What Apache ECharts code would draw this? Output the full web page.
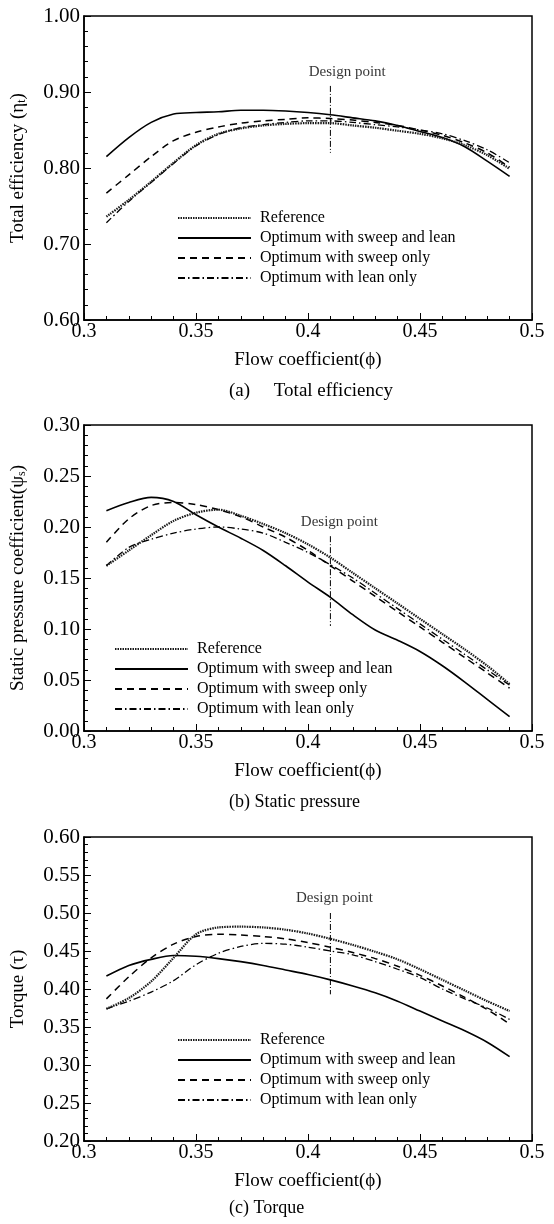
<!DOCTYPE html>
<html>
<head>
<meta charset="utf-8">
<script src="https://cdn.jsdelivr.net/npm/echarts@6/dist/echarts.min.js"></script>
<style>
  html, body { margin: 0; padding: 0; background: #fff; }
  #main { width: 554px; height: 1224px; }
</style>
</head>
<body>
<div id="main"></div>
<script>
// flow coefficient samples
const phi = [0.31, 0.32, 0.33, 0.34, 0.35, 0.36, 0.37, 0.38, 0.39, 0.40,
             0.41, 0.42, 0.43, 0.44, 0.45, 0.46, 0.47, 0.48, 0.49];

// (a) total efficiency
const effReference = [0.736, 0.758, 0.782, 0.807, 0.830, 0.845, 0.852, 0.856, 0.858, 0.859, 0.859, 0.856, 0.853, 0.849, 0.845, 0.839, 0.830, 0.817, 0.799];
const effSweepLean = [0.815, 0.840, 0.860, 0.871, 0.873, 0.874, 0.876, 0.876, 0.875, 0.873, 0.870, 0.866, 0.862, 0.856, 0.848, 0.840, 0.828, 0.809, 0.789];
const effSweep     = [0.767, 0.791, 0.815, 0.836, 0.847, 0.854, 0.859, 0.862, 0.864, 0.866, 0.865, 0.863, 0.860, 0.856, 0.850, 0.843, 0.833, 0.820, 0.801];
const effLean      = [0.728, 0.756, 0.781, 0.806, 0.829, 0.844, 0.853, 0.857, 0.860, 0.862, 0.862, 0.860, 0.857, 0.854, 0.850, 0.845, 0.836, 0.824, 0.807];

// (b) static pressure coefficient
const spReference = [0.162, 0.177, 0.192, 0.206, 0.214, 0.217, 0.211, 0.203, 0.194, 0.183, 0.170, 0.155, 0.140, 0.125, 0.110, 0.095, 0.080, 0.064, 0.046];
const spSweepLean = [0.216, 0.224, 0.229, 0.225, 0.212, 0.200, 0.189, 0.177, 0.162, 0.146, 0.131, 0.114, 0.099, 0.089, 0.078, 0.064, 0.048, 0.031, 0.014];
const spSweep     = [0.185, 0.208, 0.221, 0.224, 0.222, 0.217, 0.210, 0.200, 0.190, 0.177, 0.162, 0.147, 0.132, 0.117, 0.102, 0.087, 0.072, 0.057, 0.042];
const spLean      = [0.162, 0.180, 0.188, 0.194, 0.198, 0.200, 0.198, 0.194, 0.185, 0.175, 0.163, 0.150, 0.135, 0.120, 0.105, 0.090, 0.075, 0.060, 0.045];

// (c) torque
const tqReference = [0.374, 0.388, 0.410, 0.441, 0.472, 0.481, 0.482, 0.481, 0.478, 0.473, 0.466, 0.458, 0.449, 0.439, 0.426, 0.412, 0.398, 0.384, 0.371];
const tqSweepLean = [0.417, 0.431, 0.439, 0.444, 0.443, 0.440, 0.436, 0.431, 0.425, 0.419, 0.412, 0.404, 0.395, 0.384, 0.371, 0.358, 0.345, 0.330, 0.311];
const tqSweep     = [0.387, 0.416, 0.441, 0.459, 0.469, 0.472, 0.471, 0.469, 0.466, 0.461, 0.455, 0.448, 0.440, 0.430, 0.418, 0.404, 0.389, 0.373, 0.354];
const tqLean      = [0.374, 0.384, 0.396, 0.411, 0.432, 0.447, 0.456, 0.460, 0.459, 0.455, 0.450, 0.445, 0.436, 0.426, 0.415, 0.400, 0.387, 0.375, 0.360];

// design point marker (x, top and bottom of the line) and label anchor
const designX = 0.41;
const designEff = [0.908, 0.820];
const designSp  = [0.191, 0.103];
const designTq  = [0.500, 0.393];
const designLabelAt = [[0.4175, 0.926], [0.414, 0.205], [0.4118, 0.519]];

const names = ['Reference', 'Optimum with sweep and lean', 'Optimum with sweep only', 'Optimum with lean only'];
const serif = 'Liberation Serif, Times New Roman, serif';

const styles = [
  { color: '#1a1a1a', width: 2.2, type: [1.5, 1] },
  { color: '#000', width: 1.6, type: 'solid' },
  { color: '#000', width: 1.5, type: [7, 5] },
  { color: '#000', width: 1.3, type: [7, 3, 1.5, 3] }
];

function pairs(ys) {
  return phi.map((x, i) => [x, ys[i]]);
}

function xAxisFor(i) {
  return {
    type: 'value', gridIndex: i, min: 0.3, max: 0.5, interval: 0.05,
    name: 'Flow coefficient(ϕ)', nameLocation: 'middle', nameGap: 31,
    nameTextStyle: { fontFamily: serif, fontSize: 19, color: '#000' },
    axisLine: { lineStyle: { color: '#000', width: 1.5 } },
    axisTick: { inside: true, length: 7, lineStyle: { color: '#000' } },
    minorTick: { show: true, splitNumber: 5, length: 4, lineStyle: { color: '#000' } },
    splitLine: { show: false },
    axisLabel: { fontFamily: serif, fontSize: 20, color: '#000', margin: 2 }
  };
}

function yAxisFor(i, min, max, interval, minorSplit, name) {
  return {
    type: 'value', gridIndex: i, min: min, max: max, interval: interval,
    name: name, nameLocation: 'middle', nameGap: 56,
    nameTextStyle: {
      fontFamily: serif, fontSize: 19, color: '#000',
      rich: { sub: { fontFamily: serif, fontSize: 12, color: '#000', verticalAlign: 'bottom' } }
    },
    axisLine: { lineStyle: { color: '#000', width: 1.5 } },
    axisTick: { inside: true, length: 7, lineStyle: { color: '#000' } },
    minorTick: { show: true, splitNumber: minorSplit, length: 4, lineStyle: { color: '#000' } },
    splitLine: { show: false },
    axisLabel: {
      fontFamily: serif, fontSize: 21, color: '#000', margin: 4,
      formatter: v => v.toFixed(2)
    }
  };
}

function panelSeries(i, sets, designY) {
  const out = sets.map((ys, k) => ({
    name: names[k], type: 'line', xAxisIndex: i, yAxisIndex: i,
    data: pairs(ys), smooth: 0.3, symbol: 'none', silent: true,
    lineStyle: styles[k], itemStyle: { color: styles[k].color }, z: 4 - k
  }));
  out.push({
    type: 'line', xAxisIndex: i, yAxisIndex: i, symbol: 'none', silent: true,
    data: [[designX, designY[0]], [designX, designY[1]]],
    lineStyle: { color: '#000', width: 1, type: [6, 2, 1, 2] }
  });
  out.push({
    type: 'scatter', xAxisIndex: i, yAxisIndex: i, symbolSize: 0, silent: true,
    data: [designLabelAt[i]],
    label: {
      show: true, position: 'inside', formatter: 'Design point',
      fontFamily: serif, fontSize: 15, color: '#000'
    }
  });
  return out;
}

function legendFor(left, top) {
  return {
    data: names, orient: 'vertical', left: left, top: top,
    itemWidth: 73, itemHeight: 16, itemGap: 4, selectedMode: false,
    itemStyle: { opacity: 0 },
    textStyle: { fontFamily: serif, fontSize: 16, color: '#000', lineHeight: 16, padding: [0, 0, 0, 4] }
  };
}

let myChart = echarts.init(document.getElementById('main'));
myChart.setOption({
  animation: false,
  backgroundColor: '#fff',
  grid: [
    { left: 84, top: 16, width: 448, height: 304 },
    { left: 84, top: 425, width: 448, height: 306 },
    { left: 84, top: 837, width: 448, height: 304 }
  ].map(g => Object.assign(g, { show: true, borderColor: '#000', borderWidth: 1.5, containLabel: false })),
  legend: [legendFor(172, 205), legendFor(109, 636), legendFor(172, 1027)],
  xAxis: [xAxisFor(0), xAxisFor(1), xAxisFor(2)],
  yAxis: [
    yAxisFor(0, 0.6, 1.0, 0.1, 5, 'Total efficiency (η{sub|t})'),
    yAxisFor(1, 0, 0.3, 0.05, 5, 'Static pressure coefficient(ψ{sub|s})'),
    yAxisFor(2, 0.2, 0.6, 0.05, 5, 'Torque (τ)')
  ],
  series: [].concat(
    panelSeries(0, [effReference, effSweepLean, effSweep, effLean], designEff),
    panelSeries(1, [spReference, spSweepLean, spSweep, spLean], designSp),
    panelSeries(2, [tqReference, tqSweepLean, tqSweep, tqLean], designTq)
  ),
  graphic: [
    { type: 'text', left: 229, top: 382, style: { text: '(a)     Total efficiency', font: '19px ' + serif, fill: '#000' } },
    { type: 'text', left: 229, top: 793, style: { text: '(b) Static pressure', font: '18px ' + serif, fill: '#000' } },
    { type: 'text', left: 229, top: 1199, style: { text: '(c) Torque', font: '18px ' + serif, fill: '#000' } }
  ]
});
</script>
</body>
</html>
